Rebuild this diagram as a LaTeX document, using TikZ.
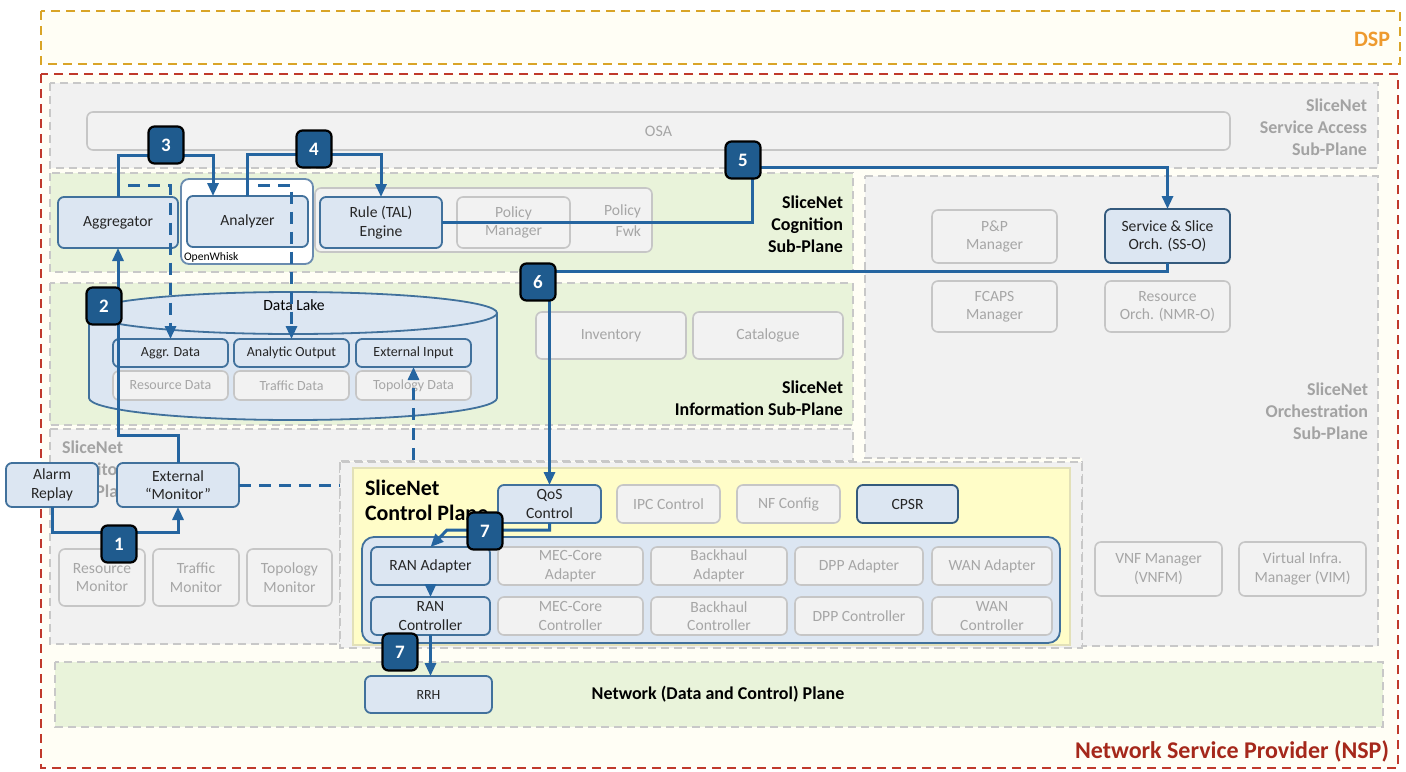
\documentclass[tikz,border=0pt]{standalone}
\usepackage{fontspec}
\setmainfont{Carlito}
\usetikzlibrary{arrows.meta}

\definecolor{bfill}{HTML}{DCE6F2}
\definecolor{bbord}{HTML}{41719C}
\definecolor{gfill}{HTML}{F2F2F2}
\definecolor{gbord}{HTML}{C6C6C6}
\definecolor{gtext}{HTML}{A6A6A6}
\definecolor{glabel}{HTML}{A3A3A3}
\definecolor{regfill}{HTML}{F1F1F1}
\definecolor{regbord}{HTML}{C8C8C8}
\definecolor{greenfill}{HTML}{E9F3DA}
\definecolor{yellowfill}{HTML}{FFFDC8}
\definecolor{yellowbord}{HTML}{E2E0B8}
\definecolor{flowc}{HTML}{2565A0}
\definecolor{badgec}{HTML}{1F5B8E}
\definecolor{nspred}{HTML}{C0392B}
\definecolor{nsptext}{HTML}{A5281B}
\definecolor{dspgold}{HTML}{D9A427}
\definecolor{dsptext}{HTML}{EE9A2E}
\definecolor{cream}{HTML}{FFFEF5}
\definecolor{wkbord}{HTML}{6A8CAF}

% box given by its corners: style, name, x1, y1, x2, y2, text
\newcommand{\mkbox}[7]{\node[#1, minimum width={(#5-#3)*0.5pt}, minimum height={(#6-#4)*0.5pt}] (#2) at ({(#3+#5)/2},{(#4+#6)/2}) {#7};}

\tikzset{
  every node/.style={inner sep=0pt, outer sep=0pt},
  bluebox/.style={draw=bbord, fill=bfill, line width=0.9pt, rounded corners=3pt, align=center,
    font=\fontsize{7.8}{9.2}\selectfont, text=black!85},
  graybox/.style={draw=gbord, fill=gfill, line width=0.8pt, rounded corners=3pt, align=center,
    font=\fontsize{7.8}{9.2}\selectfont, text=gtext},
  smallblue/.style={bluebox, font=\fontsize{7}{8.4}\selectfont},
  smallgray/.style={graybox, font=\fontsize{7}{8.4}\selectfont},
  region/.style={draw=regbord, line width=0.8pt, dash pattern=on 4pt off 2.5pt},
  graylabel/.style={font=\bfseries\fontsize{9}{11}\selectfont, text=glabel, align=right},
  blacklabel/.style={font=\bfseries\fontsize{9}{11}\selectfont, text=black, align=right},
  badge/.style={draw=black, fill=badgec, line width=1.1pt, rounded corners=3pt,
    minimum width=17.5pt, minimum height=18.5pt, text=white, font=\bfseries\fontsize{9.5}{11}\selectfont},
  flow/.style={draw=flowc, line width=1.5pt, -{Triangle[length=6.5pt,width=5.5pt]}},
  dflow/.style={flow, dash pattern=on 6pt off 4pt},
}

\begin{document}
\begin{tikzpicture}[x=0.5pt, y=-0.5pt]
\useasboundingbox[fill=white] (0,0) rectangle (1406,771);

% provider domains
\draw[draw=dspgold, fill=cream, line width=1pt, dash pattern=on 4.5pt off 3pt] (41,11) rectangle (1400,64);
\node[font=\bfseries\fontsize{11}{13}\selectfont, text=dsptext, anchor=east] (dsp) at (1390,39) {DSP};
\draw[draw=nspred, fill=cream, line width=1pt, dash pattern=on 4.5pt off 3pt] (41,74) rectangle (1398,768);
\node[font=\bfseries\fontsize{12}{14}\selectfont, text=nsptext, anchor=east] (nsp) at (1389,751) {Network Service Provider (NSP)};

% sub-planes
\draw[region, fill=regfill] (50,83) rectangle (1378,168);
\draw[region, fill=greenfill] (50,173) rectangle (853,272);
\draw[region, fill=regfill] (865,176) -- (1378,176) -- (1378,646) -- (1082,646) -- (1082,458) -- (865,458) -- cycle;
\draw[region, fill=greenfill] (50,283) rectangle (853,425);
\draw[region, fill=regfill] (50,429) -- (853,429) -- (853,461) -- (340,461) -- (340,644) -- (50,644) -- cycle;
\draw[region, fill=greenfill] (55,662) rectangle (1383,727);

\node[graylabel, anchor=east] (salabel) at (1367,127) {SliceNet\\Service Access\\Sub-Plane};
\node[blacklabel, anchor=east] (coglabel) at (843,224) {SliceNet\\Cognition\\Sub-Plane};
\node[blacklabel, anchor=east] (infolabel) at (843,398) {SliceNet\\Information Sub-Plane};
\node[graylabel, anchor=east] (orchlabel) at (1368,411) {SliceNet\\Orchestration\\Sub-Plane};
\node[graylabel, align=left, anchor=west] (monlabel) at (62,469) {SliceNet\\Monitoring\\Sub-Plane};
\node[blacklabel] (netlabel) at (718,694) {Network (Data and Control) Plane};

% service access
\mkbox{graybox, font=\fontsize{8}{9.5}\selectfont}{osa}{87}{112}{1230}{150}{OSA}

% cognition
\mkbox{bluebox}{aggr}{58}{197}{178}{248}{Aggregator}
\mkbox{draw=wkbord, fill=white, line width=0.9pt, rounded corners=4pt}{whisk}{181}{179}{313}{264}{}
\node[font=\fontsize{5.8}{7}\selectfont, anchor=south west] (whisklabel) at (184,262) {OpenWhisk};
\mkbox{bluebox}{analyzer}{187}{196}{308}{247}{Analyzer}
\mkbox{graybox}{polfwk}{315}{188}{652}{252}{}
\node[font=\fontsize{7.8}{10.5}\selectfont, text=gtext, align=right, anchor=east] (polfwklabel) at (641,221) {Policy\\Fwk};
\mkbox{bluebox}{rule}{320}{197}{442}{248}{Rule (TAL)\\Engine}
\mkbox{graybox}{polman}{457}{197}{570}{248}{Policy\\Manager}

% orchestration
\mkbox{graybox}{pnp}{932}{210}{1057}{263}{P\&P\\Manager}
\mkbox{bluebox, draw=bbord!80!black}{sso}{1105}{209}{1230}{263}{Service \& Slice\\Orch. (SS-O)}
\mkbox{graybox}{fcaps}{932}{281}{1057}{332}{FCAPS\\Manager}
\mkbox{graybox}{resorch}{1105}{281}{1230}{332}{Resource\\Orch. (NMR-O)}
\mkbox{graybox}{vnfm}{1095}{542}{1222}{596}{VNF Manager\\(VNFM)}
\mkbox{graybox}{vim}{1239}{542}{1366}{596}{Virtual Infra.\\Manager (VIM)}

% information: data lake
\draw[draw=bbord, fill=bfill, line width=0.9pt] (89,313) -- (89,398)
  arc[start angle=180, end angle=360, x radius=102pt, y radius=11pt] -- (497,313)
  arc[start angle=0, end angle=180, x radius=102pt, y radius=10.5pt] -- cycle;
\draw[draw=bbord, line width=0.9pt] (89,313) arc[start angle=180, end angle=360, x radius=102pt, y radius=10.5pt];
\node[font=\fontsize{7.8}{9.2}\selectfont] (lake) at (294,305) {Data Lake};
\mkbox{smallblue}{aggrdata}{113}{339}{228}{367}{Aggr. Data}
\mkbox{smallblue}{anout}{234}{339}{349}{367}{Analytic Output}
\mkbox{smallblue}{extin}{356}{339}{471}{367}{External Input}
\mkbox{smallgray}{resdata}{113}{371}{228}{400}{Resource Data}
\mkbox{smallgray}{trafdata}{234}{371}{349}{400}{Traffic Data}
\mkbox{smallgray}{topodata}{356}{371}{471}{400}{Topology Data}
\mkbox{graybox}{inventory}{536}{312}{686}{359}{Inventory}
\mkbox{graybox}{catalogue}{693}{312}{843}{359}{Catalogue}

% monitoring
\mkbox{graybox}{resmon}{59}{549}{145}{606}{Resource\\Monitor}
\mkbox{graybox}{trafmon}{153}{549}{239}{606}{Traffic\\Monitor}
\mkbox{graybox}{topomon}{247}{549}{332}{606}{Topology\\Monitor}
\mkbox{bluebox}{alarm}{6}{463}{98}{507}{Alarm\\Replay}
\mkbox{bluebox}{extmon}{117}{463}{239}{507}{External\\“Monitor”}

% external monitor feeds the data lake
\draw[dflow] (extmon.east) -| (extin.south);

% control plane
\draw[region, fill=regfill] (340,462) rectangle (1082,648);
\draw[draw=yellowbord, fill=yellowfill, line width=0.6pt] (353,468) rectangle (1070,645);
\node[font=\bfseries\fontsize{11}{12.5}\selectfont, align=left, anchor=west] (cplabel) at (365,500) {SliceNet\\Control Plane};
\mkbox{bluebox}{qos}{498}{485}{601}{523}{QoS\\Control}
\mkbox{graybox}{ipc}{617}{485}{720}{523}{IPC Control}
\mkbox{graybox}{nfconf}{737}{485}{840}{523}{NF Config}
\mkbox{bluebox, draw=bbord!80!black}{cpsr}{857}{485}{958}{523}{CPSR}
\mkbox{bluebox, rounded corners=6pt}{adapters}{362}{537}{1060}{643}{}
\mkbox{bluebox}{ranad}{371}{547}{490}{585}{RAN Adapter}
\mkbox{graybox}{mecad}{498}{547}{643}{585}{MEC-Core\\Adapter}
\mkbox{graybox}{bhad}{651}{547}{787}{585}{Backhaul\\Adapter}
\mkbox{graybox}{dppad}{795}{547}{923}{585}{DPP Adapter}
\mkbox{graybox}{wanad}{932}{547}{1052}{585}{WAN Adapter}
\mkbox{bluebox}{ranctl}{371}{597}{490}{635}{RAN\\Controller}
\mkbox{graybox}{mecctl}{498}{597}{643}{635}{MEC-Core\\Controller}
\mkbox{graybox}{bhctl}{651}{597}{787}{635}{Backhaul\\Controller}
\mkbox{graybox}{dppctl}{795}{597}{923}{635}{DPP Controller}
\mkbox{graybox}{wanctl}{932}{597}{1052}{635}{WAN\\Controller}

% network plane
\mkbox{bluebox, font=\fontsize{7}{8.4}\selectfont}{rrh}{365}{676}{492}{713}{RRH}

% workflow
\coordinate (k5) at (752,167);
\coordinate (k7) at (447,530);
\coordinate (d1) at (128,185);
\coordinate (d2) at (258,185);
\draw[flow] (alarm.south) -- ++(0,25) -| (extmon.south);
\draw[flow] (extmon.north) -- ++(0,-28) -| (aggr.south);
\draw[flow] (aggr.north) -- ++(0,-42) -| ([xshift=13pt]analyzer.north west);
\draw[flow] (analyzer.north) -- ++(0,-42) -| (rule.north);
\draw[flow] (rule.east) -| (k5) -| (sso.north);
\draw[flow] (sso.south) -- ++(0,8) -| (qos.north);
\draw[flow] (qos.south) |- (k7) -- (ranad.north);
\draw[flow] (ranad.south) -- (ranad.south |- ranctl.north);
\draw[flow] (ranctl.south) -- (ranctl.south |- rrh.north);
\draw[dflow] (d1) -| (aggrdata.north);
\draw[dflow] (d2) -| (anout.north);

% step markers
\node[badge] (s1) at (119,544) {1};
\node[badge] (s2) at (104,306) {2};
\node[badge] (s3) at (166,145) {3};
\node[badge] (s4) at (314,149) {4};
\node[badge] (s5) at (743,160) {5};
\node[badge] (s6) at (538,282) {6};
\node[badge] (s7a) at (485,531) {7};
\node[badge] (s7b) at (400,652) {7};
\end{tikzpicture}
\end{document}
